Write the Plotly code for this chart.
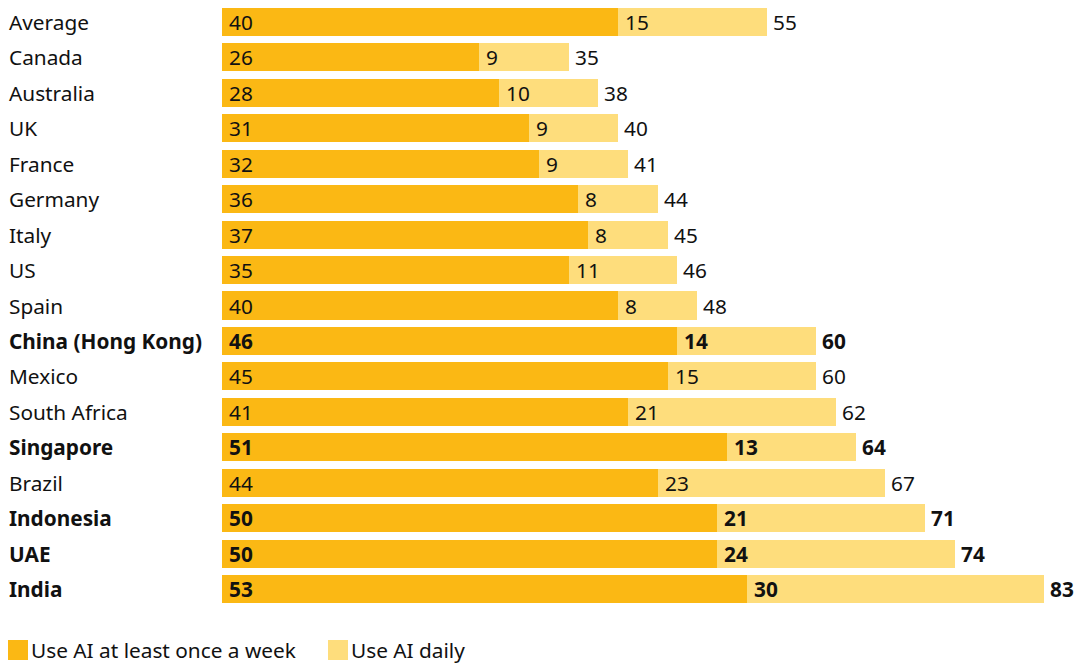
import plotly.graph_objects as go

countries = ["Average", "Canada", "Australia", "UK", "France", "Germany", "Italy", "US", "Spain",
             "China (Hong Kong)", "Mexico", "South Africa", "Singapore", "Brazil", "Indonesia", "UAE", "India"]
weekly = [40, 26, 28, 31, 32, 36, 37, 35, 40, 46, 45, 41, 51, 44, 50, 50, 53]
daily = [15, 9, 10, 9, 9, 8, 8, 11, 8, 14, 15, 21, 13, 23, 21, 24, 30]
totals = [55, 35, 38, 40, 41, 44, 45, 46, 48, 60, 60, 62, 64, 67, 71, 74, 83]
bold = ["China (Hong Kong)", "Singapore", "Indonesia", "UAE", "India"]

C_WEEK = "#FBB814"
C_DAILY = "#FEDD7C"
FONT = "Noto Sans"
FS = 20.8

W, H = 1080, 664
ML, MR, MT, MB = 222, 0, 4, 57
PW = W - ML - MR
XMAX = PW / 9.9

fig = go.Figure()
fig.add_trace(go.Bar(y=countries, x=weekly, orientation="h", marker=dict(color=C_WEEK, line_width=0),
                     name="Use AI at least once a week", hoverinfo="x+y"))
fig.add_trace(go.Bar(y=countries, x=daily, orientation="h", marker=dict(color=C_DAILY, line_width=0),
                     name="Use AI daily", hoverinfo="x+y"))

def b(s, c):
    return f"<b>{s}</b>" if c in bold else str(s)

ann = []
for c, w, d, t in zip(countries, weekly, daily, totals):
    ann.append(dict(x=(7 - ML) / PW, xref="paper", y=c, yref="y", text=b(c, c), showarrow=False,
                    xanchor="left", font=dict(family=FONT, size=FS, color="#111")))
    ann.append(dict(x=0, y=c, text=b(w, c), showarrow=False, xanchor="left", xshift=5,
                    font=dict(family=FONT, size=FS, color="#111")))
    ann.append(dict(x=w, y=c, text=b(d, c), showarrow=False, xanchor="left", xshift=5,
                    font=dict(family=FONT, size=FS, color="#111")))
    ann.append(dict(x=t, y=c, text=b(t, c), showarrow=False, xanchor="left", xshift=4,
                    font=dict(family=FONT, size=FS, color="#111")))

# manual legend
legend_items = [("Use AI at least once a week", C_WEEK, 8), ("Use AI daily", C_DAILY, 328)]
shapes = []
PH = H - MT - MB
for label, col, px in legend_items:
    x0 = (px - ML) / PW
    x1 = (px + 20 - ML) / PW
    y0 = -(660 - (H - MB)) / PH
    y1 = -(640 - (H - MB)) / PH
    shapes.append(dict(type="rect", xref="paper", yref="paper", x0=x0, x1=x1, y0=y0, y1=y1,
                       fillcolor=col, line_width=0))
    ann.append(dict(x=(px + 21 - ML) / PW, xref="paper", y=(y0 + y1) / 2, yref="paper", text=label,
                    showarrow=False, xanchor="left", yanchor="middle",
                    font=dict(family=FONT, size=FS, color="#111")))

fig.update_layout(
    barmode="stack", bargap=0.21, width=W, height=H,
    margin=dict(l=ML, r=MR, t=MT, b=MB),
    plot_bgcolor="white", paper_bgcolor="white", showlegend=False,
    xaxis=dict(range=[0, XMAX], visible=False),
    yaxis=dict(autorange="reversed", showticklabels=False, showgrid=False, zeroline=False),
    annotations=ann, shapes=shapes,
    font=dict(family=FONT, size=FS),
)
fig.write_html("out.html", config={"displayModeBar": False},
               post_script="document.body.style.margin='0';")
